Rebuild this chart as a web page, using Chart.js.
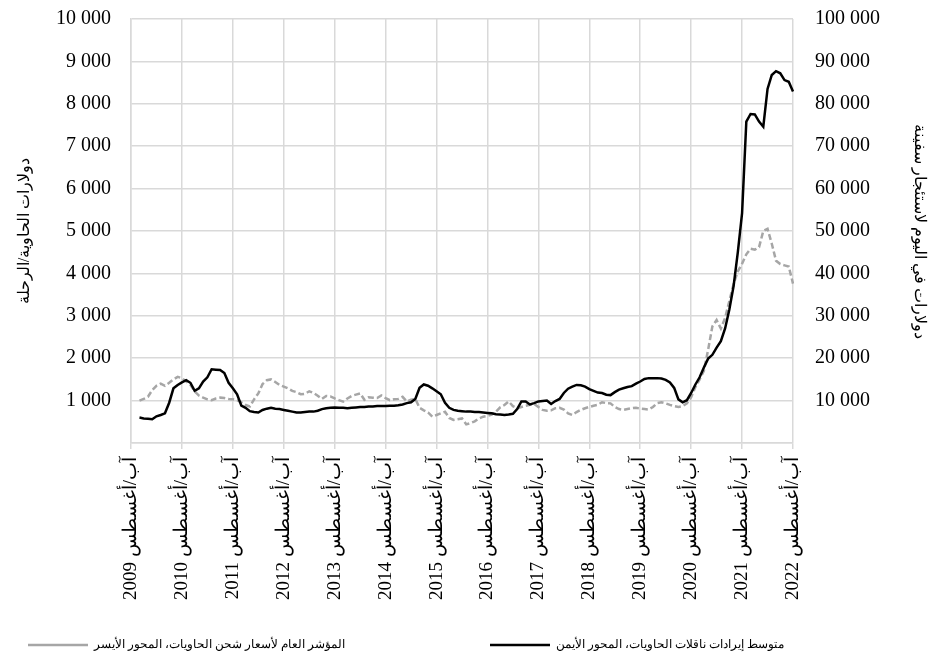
<!DOCTYPE html>
<html>
<head>
<meta charset="utf-8">
<script src="https://cdn.jsdelivr.net/npm/chart.js@4.4.1/dist/chart.umd.min.js"></script>
<style>
  html, body { margin: 0; padding: 0; background: #fff; }
  #wrap { width: 930px; height: 661px; }
</style>
</head>
<body>
<div id="wrap"><canvas id="chart"></canvas></div>
<script>
// one tick label per August, Aug 2009 .. Aug 2022
const tickLabels = [
  "2009 آب/أغسطس", "2010 آب/أغسطس", "2011 آب/أغسطس", "2012 آب/أغسطس",
  "2013 آب/أغسطس", "2014 آب/أغسطس", "2015 آب/أغسطس", "2016 آب/أغسطس",
  "2017 آب/أغسطس", "2018 آب/أغسطس", "2019 آب/أغسطس", "2020 آب/أغسطس",
  "2021 آب/أغسطس", "2022 آب/أغسطس"
];

// monthly categories, index 0 = Aug 2009
const months = [];
for (let i = 0; i <= 156; i++) months.push(i);

// average container ship charter rate, $/day (right axis)
const charterRates = [
  null, null, 6000, 5800, 5700, 5600, 6300, 6600, 7000, 9500,
  12900, 13700, 14300, 14800, 14200, 12300, 12900, 14500, 15500, 17400,
  17300, 17200, 16500, 14200, 12900, 11500, 8800, 8300, 7500, 7300,
  7200, 7800, 8100, 8300, 8100, 8000, 7800, 7600, 7400, 7200,
  7200, 7300, 7400, 7400, 7600, 8000, 8200, 8300, 8400, 8300,
  8300, 8200, 8300, 8400, 8500, 8500, 8600, 8600, 8700, 8700,
  8700, 8800, 8800, 8900, 9100, 9400, 9600, 10400, 13000, 13800,
  13500, 12900, 12200, 11500, 9500, 8300, 7800, 7600, 7500, 7400,
  7400, 7300, 7300, 7200, 7100, 7000, 6800, 6700, 6600, 6700,
  6900, 8000, 9800, 9800, 9100, 9400, 9800, 9900, 10000, 9200,
  9900, 10400, 11800, 12800, 13300, 13700, 13600, 13300, 12700, 12300,
  11900, 11800, 11400, 11300, 12000, 12600, 12900, 13200, 13400, 14000,
  14500, 15100, 15300, 15300, 15300, 15200, 14900, 14300, 13000, 10300,
  9600, 10100, 11800, 13800, 15500, 17800, 19900, 20800, 22500, 24000,
  27000, 31500, 37000, 45000, 54200, 75800, 77600, 77500, 75800, 74600,
  83500, 86800, 87700, 87200, 85600, 85200, 82900
];

// general container freight index, $/container/trip (left axis)
const freightIndex = [
  null, null, 1000, 1040, 1090, 1250, 1350, 1400, 1350, 1420,
  1500, 1560, 1530, 1450, 1370, 1220, 1120, 1070, 1030, 1010,
  1050, 1070, 1060, 1040, 1030, 1010, 960, 895, 860, 1030,
  1170, 1390, 1480, 1500, 1440, 1370, 1330, 1290, 1230, 1200,
  1150, 1160, 1220, 1180, 1115, 1040, 1110, 1100, 1050, 1010,
  975, 1050, 1110, 1140, 1170, 1020, 1080, 1070, 1060, 1120,
  1060, 1010, 1030, 1040, 1090, 980, 1020, 1040, 830, 770,
  720, 620, 660, 700, 738, 590, 545, 560, 580, 440,
  470, 510, 580, 620, 640, 670, 740, 840, 895, 980,
  870, 820, 850, 880, 900, 920, 850, 780, 760, 770,
  820, 830, 790, 700, 660, 730, 780, 820, 850, 880,
  900, 960, 940, 935, 850, 800, 780, 800, 820, 830,
  810, 800, 790, 850, 940, 960, 935, 900, 870, 850,
  870, 935, 1080, 1320, 1500, 1700, 2200, 2750, 2900, 2700,
  2950, 3350, 3750, 4050, 4230, 4450, 4580, 4560, 4620, 5000,
  5050, 4700, 4300, 4220, 4190, 4160, 3760
];

const fontFamily = "'Liberation Serif', 'Times New Roman', serif";
Chart.defaults.color = "#000";
Chart.defaults.font.family = fontFamily;

const gridColor = "#d9d9d9";
const clear = "rgba(0,0,0,0)";

function spaced(v) {
  return String(v).replace(/\B(?=(\d{3})+(?!\d))/g, " ");
}

const ctx = document.getElementById("chart").getContext("2d");

new Chart(ctx, {
  type: "line",
  data: {
    labels: months,
    datasets: [
      {
        label: "متوسط إيرادات ناقلات الحاويات، المحور الأيمن",
        data: charterRates,
        yAxisID: "yRight",
        borderColor: "#000",
        backgroundColor: "#000",
        borderWidth: 2.5,
        pointRadius: 0,
        tension: 0
      },
      {
        label: "المؤشر العام لأسعار شحن الحاويات، المحور الأيسر",
        data: freightIndex,
        yAxisID: "yLeft",
        borderColor: "#a6a6a6",
        backgroundColor: "#a6a6a6",
        borderWidth: 2.5,
        borderDash: [6, 3],
        pointRadius: 0,
        tension: 0
      }
    ]
  },
  options: {
    responsive: true,
    maintainAspectRatio: false,
    animation: false,
    layout: { padding: { left: 18, right: 0, top: 19, bottom: 0 } },
    plugins: {
      tooltip: { enabled: false },
      legend: {
        position: "bottom",
        align: "start",
        reverse: true,
        labels: {
          boxWidth: 60,
          boxHeight: 0,
          padding: 10,
          font: { size: 12 },
          generateLabels: chart => {
            const items = Chart.defaults.plugins.legend.labels.generateLabels(chart);
            items.forEach(it => {
              if (it.datasetIndex === 1) it.text += " ".repeat(45);
            });
            return items;
          }
        }
      }
    },
    scales: {
      x: {
        grid: { color: gridColor, lineWidth: 1.5, tickLength: 6, tickColor: gridColor },
        border: { color: gridColor, width: 1.5 },
        ticks: {
          autoSkip: false,
          maxRotation: 90,
          minRotation: 90,
          padding: 8,
          font: { size: 19 },
          callback: (v, i) => (i % 12 === 0 ? tickLabels[i / 12] : null)
        },
        afterFit: s => { s.height = 186; }
      },
      yLeft: {
        position: "left",
        min: 0,
        max: 10000,
        ticks: {
          stepSize: 1000,
          padding: 2,
          font: { size: 20 },
          callback: v => (v === 0 ? "" : spaced(v))
        },
        grid: { color: gridColor, lineWidth: 1.5, tickLength: 18, tickColor: clear },
        border: { color: gridColor, width: 1.5 },
        title: {
          display: true,
          text: "دولارات الحاوية/الرحلة",
          font: { size: 16 },
          padding: { top: -3, bottom: 0 }
        },
        afterFit: s => { s.width = 113; }
      },
      yRight: {
        position: "right",
        min: 0,
        max: 100000,
        ticks: {
          stepSize: 10000,
          padding: 2,
          font: { size: 20 },
          callback: v => (v === 0 ? "" : spaced(v))
        },
        grid: { drawOnChartArea: false, tickLength: 20, tickColor: clear },
        border: { display: false },
        title: {
          display: true,
          text: "دولارات في اليوم لاستئجار سفينة",
          font: { size: 16 },
          padding: { top: 1, bottom: 0 }
        },
        afterFit: s => { s.width = 137; }
      }
    }
  }
});
</script>
</body>
</html>
